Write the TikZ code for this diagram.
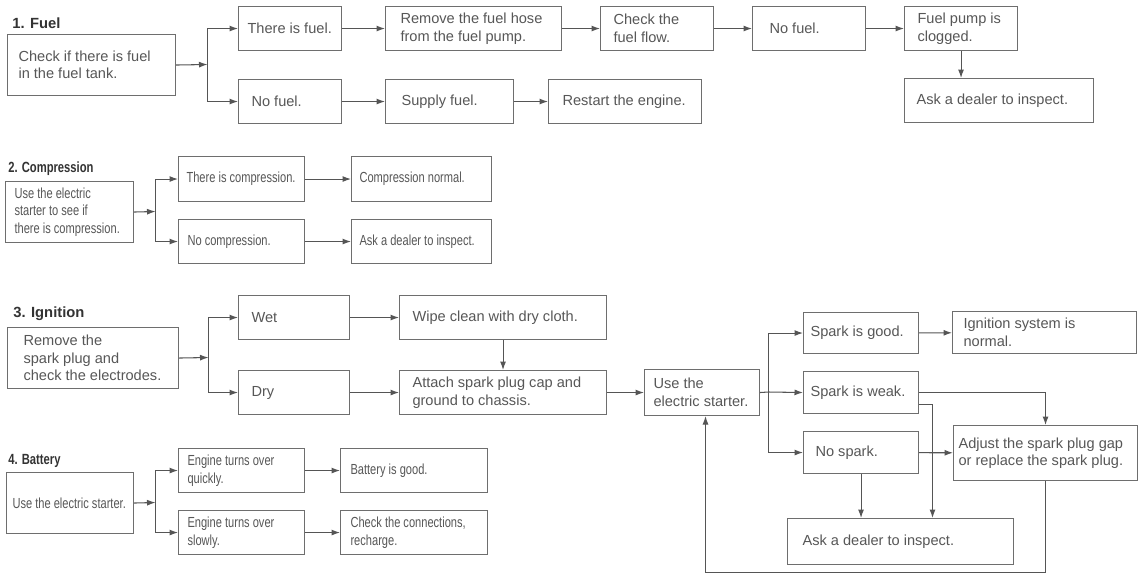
\documentclass[tikz,border=0pt]{standalone}
\usepackage{fontspec}
\setmainfont{Liberation Sans}
\newfontfamily\narrowfont{Liberation Sans}[FakeStretch=0.76]
\usetikzlibrary{arrows.meta}
\definecolor{mnline}{HTML}{555555}
\definecolor{mnbox}{HTML}{6E6E6E}
\definecolor{mntext}{HTML}{575757}
\definecolor{mntitle}{HTML}{333333}
\newcommand\widefont{\fontsize{8.3}{9.96}\selectfont}
\newcommand\slimfont{\narrowfont\fontsize{8.3}{9.96}\selectfont}
\tikzset{
  box/.style n args={3}{rectangle,draw=mnbox,line width=.6pt,anchor=north west,inner xsep=#3*0.02cm,inner ysep=0pt,text width={(#1-2*#3)*0.02cm},minimum height={#2*0.02cm},align=flush left,text=mntext,font=\widefont},
  slim/.style={font=\slimfont},
  title/.style={anchor=west,inner sep=0pt,text=mntitle,font=\bfseries\fontsize{8.4}{10}\selectfont},
  slimtitle/.style={title,font=\narrowfont\bfseries\fontsize{8.4}{10}\selectfont},
  arr/.style={-{Latex[length=1.7mm,width=1.2mm]},draw=mnline,line width=.6pt},
  link/.style={draw=mnline,line width=.6pt},
}

\begin{document}
\begin{tikzpicture}[x=0.02cm,y=-0.02cm]
  \path[use as bounding box,fill=white] (0,0) rectangle (1138,575);
  % 1. Fuel
  \node[title] (tfuel) at (12,23) {1. Fuel};
  \node[box={168}{61}{11}] (fchk) at (7,34) {Check if there is fuel\\in the fuel tank.};
  \node[box={103}{44}{9}] (fyes) at (238,6) {There is fuel.};
  \node[box={103}{44}{13}] (fno) at (238,79) {No fuel.};
  \node[box={176}{44}{15}] (fhose) at (385,6) {Remove the fuel hose\\from the fuel pump.};
  \node[box={113}{44}{13}] (fflow) at (600,6) {Check the\\fuel flow.};
  \node[box={113}{44}{17}] (fnone) at (752,6) {No fuel.};
  \node[box={113}{44}{13}] (fpump) at (904,6) {Fuel pump is\\clogged.};
  \node[box={189}{44}{12}] (fdeal) at (904,78) {Ask a dealer to inspect.};
  \node[box={128}{44}{16}] (fsup) at (385,79) {Supply fuel.};
  \node[box={153}{44}{14}] (frst) at (548,79) {Restart the engine.};
  \coordinate (fj) at (207.5,64.5);
  \draw[arr] (fchk.east) -- (fj);
  \draw[arr] (fj) |- (fyes.west);
  \draw[arr] (fj) |- (fno.west);
  \draw[arr] (fyes) -- (fhose);
  \draw[arr] (fhose) -- (fflow);
  \draw[arr] (fflow) -- (fnone);
  \draw[arr] (fnone) -- (fpump);
  \draw[arr] (fpump.south) -- (fpump.south |- fdeal.north);
  \draw[arr] (fno) -- (fsup);
  \draw[arr] (fsup) -- (frst);
  % 2. Compression
  \node[slimtitle] (tcomp) at (8,169) {2. Compression};
  \node[box={128}{61}{9},slim] (cchk) at (5,181) {Use the electric\\starter to see if\\there is compression.};
  \node[box={126}{45}{8},slim] (cyes) at (178,156) {There is compression.};
  \node[box={126}{44}{9},slim] (cno) at (178,219) {No compression.};
  \node[box={140}{45}{8},slim] (cok) at (351,156) {Compression normal.};
  \node[box={140}{44}{8},slim] (cdeal) at (351,219) {Ask a dealer to inspect.};
  \coordinate (cj) at (155.5,211.5);
  \draw[arr] (cchk.east) -- (cj);
  \draw[arr] (cj) |- (cyes.west);
  \draw[arr] (cj) |- (cno.west);
  \draw[arr] (cyes) -- (cok);
  \draw[arr] (cno) -- (cdeal);
  % 3. Ignition
  \node[title] (tign) at (13,314) {3. Ignition};
  \node[box={171}{61}{16}] (ichk) at (7,327) {Remove the\\spark plug and\\check the electrodes.};
  \node[box={111}{44}{13}] (iwet) at (238,295) {Wet};
  \node[box={111}{44}{13}] (idry) at (238,370) {Dry};
  \node[box={207}{44}{13}] (iwipe) at (399,295) {Wipe clean with dry cloth.};
  \node[box={207}{44}{13}] (icap) at (399,370) {Attach spark plug cap and\\ground to chassis.};
  \node[box={115}{46}{9}] (istart) at (644,369) {Use the\\electric starter.};
  \node[box={115}{41}{7}] (igood) at (803,312) {Spark is good.};
  \node[box={184}{42}{11}] (inorm) at (952,311) {Ignition system is\\normal.};
  \node[box={115}{42}{7}] (iweak) at (803,371) {Spark is weak.};
  \node[box={115}{42}{12}] (inone) at (803,431) {No spark.};
  \node[box={184}{55}{5}] (iadj) at (953,425) {Adjust the spark plug gap\\or replace the spark plug.};
  \node[box={226}{46}{15}] (ideal) at (787,518) {Ask a dealer to inspect.};
  \coordinate (ij) at (208.5,357.5);
  \draw[arr] (ichk.east) -- (ij);
  \draw[arr] (ij) |- (iwet.west);
  \draw[arr] (ij) |- (idry.west);
  \draw[arr] (iwet) -- (iwipe);
  \draw[arr] (idry) -- (icap);
  \draw[arr] (iwipe) -- (icap);
  \draw[arr] (icap) -- (istart);
  \coordinate (sj) at (768.5,392);
  \draw[link] (istart.east) -- (sj);
  \draw[arr] (sj) |- (igood.west);
  \draw[arr] (sj) -- (iweak.west);
  \draw[arr] (sj) |- (inone.west);
  \draw[arr] (igood) -- (inorm);
  \draw[arr] (iweak.east) -| (iadj.north);
  \coordinate (wk) at (932.5,404.5);
  \draw[arr] (iweak.east |- wk) -- (wk) -- (wk |- ideal.north);
  \draw[arr] (inone) -- (iadj);
  \draw[arr] (inone.south) -- (inone.south |- ideal.north);
  \coordinate (lp) at (705.5,572.5);
  \draw[arr] (iadj.south) |- (lp) -- (lp |- istart.south);
  % 4. Battery
  \node[slimtitle] (tbat) at (8,461) {4. Battery};
  \node[box={127}{61}{6},slim] (bchk) at (6,472) {Use the electric starter.};
  \node[box={126}{44}{9},slim] (bfast) at (178,448) {Engine turns over\\quickly.};
  \node[box={126}{44}{9},slim] (bslow) at (178,510) {Engine turns over\\slowly.};
  \node[box={147}{44}{10},slim] (bgood) at (340,448) {Battery is good.};
  \node[box={147}{44}{10},slim] (bconn) at (340,510) {Check the connections,\\recharge.};
  \coordinate (bj) at (155.5,502.5);
  \draw[arr] (bchk.east) -- (bj);
  \draw[arr] (bj) |- (bfast.west);
  \draw[arr] (bj) |- (bslow.west);
  \draw[arr] (bfast) -- (bgood);
  \draw[arr] (bslow) -- (bconn);
\end{tikzpicture}
\end{document}
